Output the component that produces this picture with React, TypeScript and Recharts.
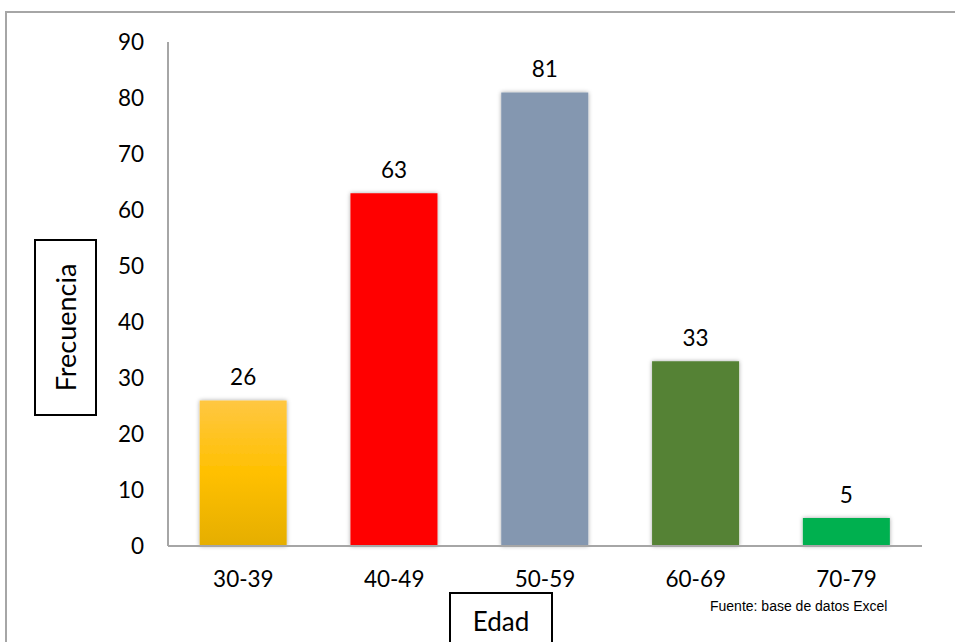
import React from 'react';
import { BarChart, Bar, XAxis, YAxis, Cell, LabelList } from 'recharts';

const categories = ['30-39', '40-49', '50-59', '60-69', '70-79'];
const frequencies = [26, 63, 81, 33, 5];
const barColors = ['url(#gold)', '#FF0000', '#8497B0', '#548235', '#00B050'];
const yTicks = [0, 10, 20, 30, 40, 50, 60, 70, 80, 90];

const data = categories.map((c, i) => ({ name: c, value: frequencies[i] }));

const font = 'Lato, "Open Sans", sans-serif';
const fs = 22.5;

export default function App() {
  return (
    <div style={{ position: 'absolute', left: 0, top: 0, width: 955, height: 642, background: '#fff', overflow: 'hidden', fontFamily: font }}>
      <div style={{ position: 'absolute', left: 5, top: 11, width: 960, height: 640, borderTop: '2px solid #A6A6A6', borderLeft: '2px solid #A6A6A6' }} />
      <BarChart
        width={955}
        height={642}
        data={data}
        margin={{ top: 42, right: 33, left: 0, bottom: 66 }}
        barCategoryGap="21%"
        style={{ position: 'absolute', left: 0, top: 0 }}
      >
        <defs>
          <linearGradient id="gold" x1="0" y1="0" x2="0" y2="1">
            <stop offset="0%" stopColor="#FFC742" />
            <stop offset="50%" stopColor="#FFC000" />
            <stop offset="100%" stopColor="#E5AE00" />
          </linearGradient>
          <filter id="shadow" x="-20%" y="-20%" width="140%" height="140%">
            <feDropShadow dx="0" dy="0" stdDeviation="2" floodColor="#000" floodOpacity="0.35" />
          </filter>
        </defs>
        <XAxis
          dataKey="name"
          axisLine={{ stroke: '#A6A6A6', strokeWidth: 2 }}
          tickLine={false}
          tickMargin={19}
          tick={{ fill: '#000', fontSize: fs, fontFamily: font }}
        />
        <YAxis
          width={168}
          domain={[0, 90]}
          ticks={yTicks}
          interval={0}
          axisLine={{ stroke: '#A6A6A6', strokeWidth: 2 }}
          tickLine={false}
          tickSize={0}
          tickMargin={24}
          tick={{ fill: '#000', fontSize: fs, fontFamily: font }}
        />
        <Bar dataKey="value" isAnimationActive={false} filter="url(#shadow)">
          {data.map((d, i) => (
            <Cell key={d.name} fill={barColors[i]} />
          ))}
          <LabelList dataKey="value" position="top" offset={15} style={{ fill: '#000', fontSize: fs, fontFamily: font }} />
        </Bar>
      </BarChart>
      <div style={{ position: 'absolute', left: 34, top: 239, width: 63, height: 177, border: '2px solid #000', display: 'flex', alignItems: 'center', justifyContent: 'center', boxSizing: 'border-box' }}>
        <span style={{ transform: 'rotate(-90deg)', fontSize: 27, whiteSpace: 'nowrap' }}>Frecuencia</span>
      </div>
      <div style={{ position: 'absolute', left: 449, top: 592, width: 104, height: 60, border: '2px solid #000', boxSizing: 'border-box', fontSize: 26, textAlign: 'center', paddingTop: 11 }}>
        Edad
      </div>
      <div style={{ position: 'absolute', left: 710, top: 598, fontSize: 14, fontFamily: '"Liberation Sans", Arial, sans-serif' }}>
        Fuente: base de datos Excel
      </div>
    </div>
  );
}
